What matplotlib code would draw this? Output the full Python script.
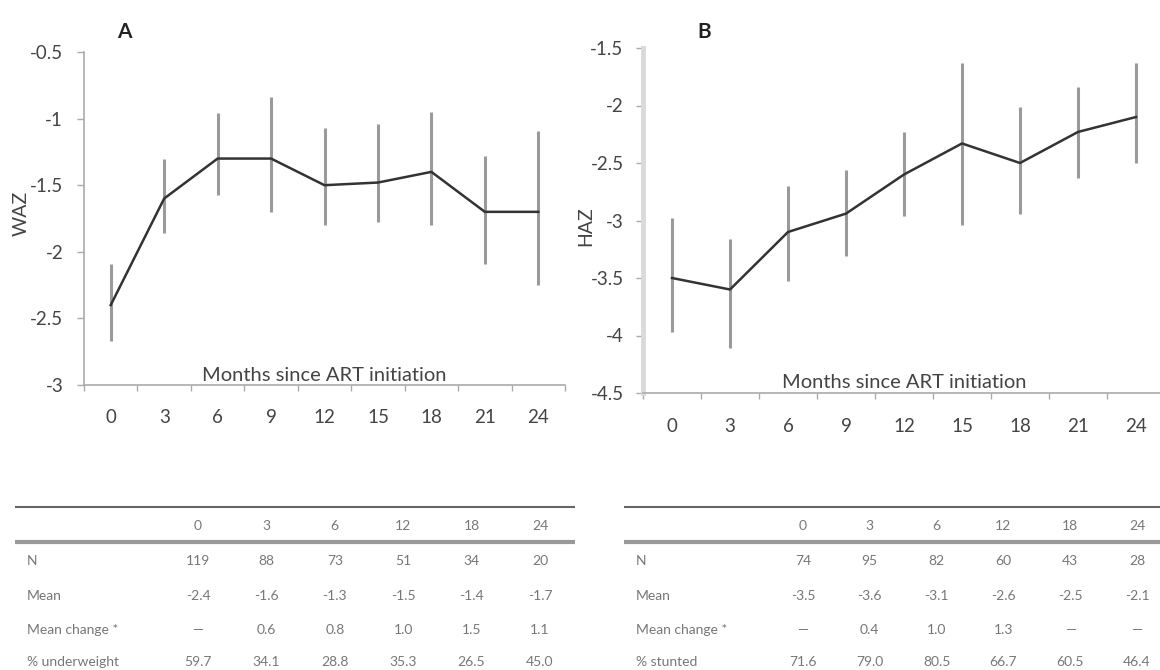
import numpy as np
import matplotlib
matplotlib.use("Agg")
import matplotlib.pyplot as plt

plt.rcParams['font.family'] = ['Lato', 'DejaVu Sans']

# z-scores by months since ART initiation
months = [0, 3, 6, 9, 12, 15, 18, 21, 24]

waz_mean = [-2.4, -1.6, -1.3, -1.3, -1.5, -1.48, -1.4, -1.7, -1.7]
waz_low = [-2.67, -1.86, -1.57, -1.70, -1.80, -1.78, -1.80, -2.09, -2.25]
waz_high = [-2.09, -1.30, -0.96, -0.84, -1.07, -1.04, -0.95, -1.28, -1.09]

haz_mean = [-3.5, -3.6, -3.1, -2.94, -2.6, -2.33, -2.5, -2.23, -2.1]
haz_low = [-3.97, -4.11, -3.53, -3.31, -2.96, -3.04, -2.94, -2.63, -2.50]
haz_high = [-2.98, -3.16, -2.70, -2.56, -2.23, -1.63, -2.01, -1.84, -1.63]

# summary tables
table_cols = ['0', '3', '6', '12', '18', '24']
waz_rows = ['N', 'Mean', 'Mean change *', '% underweight']
waz_table = [
    ['119', '88', '73', '51', '34', '20'],
    ['-2.4', '-1.6', '-1.3', '-1.5', '-1.4', '-1.7'],
    ['\u2014', '0.6', '0.8', '1.0', '1.5', '1.1'],
    ['59.7', '34.1', '28.8', '35.3', '26.5', '45.0'],
]
haz_rows = ['N', 'Mean', 'Mean change *', '% stunted']
haz_table = [
    ['74', '95', '82', '60', '43', '28'],
    ['-3.5', '-3.6', '-3.1', '-2.6', '-2.5', '-2.1'],
    ['\u2014', '0.4', '1.0', '1.3', '\u2014', '\u2014'],
    ['71.6', '79.0', '80.5', '66.7', '60.5', '46.4'],
]

W, H = 1160, 670
fig = plt.figure(figsize=(W / 100, H / 100), dpi=100)


def px_box(x0, y0, x1, y1):
    return [x0 / W, 1 - y1 / H, (x1 - x0) / W, (y1 - y0) / H]


def line_panel(ax, mean, low, high, ylim, yticks, ylabel, letter,
               yspine_color, yspine_w, ylab_pos, ypad, xpad):
    idx = np.arange(len(months))
    ax.vlines(idx, low, high, color='#9a9a9a', lw=2.2, zorder=2)
    ax.plot(idx, mean, color='#333333', lw=1.8, zorder=3)
    ax.set_xlim(-0.5, len(months) - 0.5)
    ax.set_ylim(*ylim)
    ax.set_yticks(yticks)
    ax.set_yticklabels([f'{t:g}' for t in yticks])
    ax.set_xticks(np.arange(-0.5, len(months), 1))
    ax.set_xticklabels([])
    ax.set_xticks(idx, minor=True)
    ax.set_xticklabels([str(m) for m in months], minor=True)
    ax.tick_params(axis='x', which='major', length=4, width=1, color='#aaaaaa', direction='out')
    ax.tick_params(axis='x', which='minor', length=0, pad=xpad, labelsize=13.5, labelcolor='#444444')
    ax.tick_params(axis='y', length=5, width=1, color='#aaaaaa', pad=ypad,
                   labelsize=13.5, labelcolor='#444444')
    for s in ['top', 'right']:
        ax.spines[s].set_visible(False)
    ax.spines['left'].set_color(yspine_color)
    ax.spines['left'].set_linewidth(yspine_w)
    ax.spines['bottom'].set_color('#aaaaaa')
    ax.spines['bottom'].set_linewidth(1.2)
    ax.text(0.5, 0.03, 'Months since ART initiation', transform=ax.transAxes,
            ha='center', va='center', fontsize=14.5, color='#444444')
    ax.text(ylab_pos[0], ylab_pos[1], ylabel, transform=ax.transAxes, rotation=90,
            ha='center', va='center', fontsize=14, color='#444444')
    ax.text(letter[1], letter[2], letter[0], transform=fig.transFigure,
            ha='center', va='center', fontsize=15, fontweight='bold', color='#222222')


axA = fig.add_axes(px_box(84, 52, 565, 385))
line_panel(axA, waz_mean, waz_low, waz_high, (-3, -0.5),
           [-3, -2.5, -2, -1.5, -1, -0.5], 'WAZ', ('A', 124 / W, 1 - 32 / H),
           '#aaaaaa', 1.2, (-0.13, 0.516), 10, 17)

axB = fig.add_axes(px_box(643, 48, 1165, 393))
line_panel(axB, haz_mean, haz_low, haz_high, (-4.5, -1.5),
           [-4.5, -4, -3.5, -3, -2.5, -2, -1.5], 'HAZ', ('B', 704 / W, 1 - 32 / H),
           '#dadada', 3.5, (-0.11, 0.484), 9, 18)


def summary_table(x0, x1, col_first, col_last, rows, cells):
    ax = fig.add_axes(px_box(x0, 500, x1, 670))
    ax.set_xlim(x0, x1)
    ax.set_ylim(670, 500)
    ax.axis('off')
    ax.plot([x0, x1], [507, 507], color='#666666', lw=1.5, solid_capstyle='butt')
    ax.plot([x0, x1], [542, 542], color='#999999', lw=3, solid_capstyle='butt')
    col_x = np.linspace(col_first, col_last, len(table_cols))
    for cx, c in zip(col_x, table_cols):
        ax.text(cx, 526, c, ha='center', va='center', fontsize=10, color='#777777')
    for ry, label, vals in zip([561, 596, 630, 662], rows, cells):
        ax.text(x0 + 12, ry, label, ha='left', va='center', fontsize=10, color='#777777')
        for cx, v in zip(col_x, vals):
            ax.text(cx, ry, v, ha='center', va='center', fontsize=10, color='#777777')


summary_table(15, 575, 198, 540, waz_rows, waz_table)
summary_table(624, 1160, 803, 1137, haz_rows, haz_table)

fig.savefig('out.png', dpi=100, facecolor='white')
